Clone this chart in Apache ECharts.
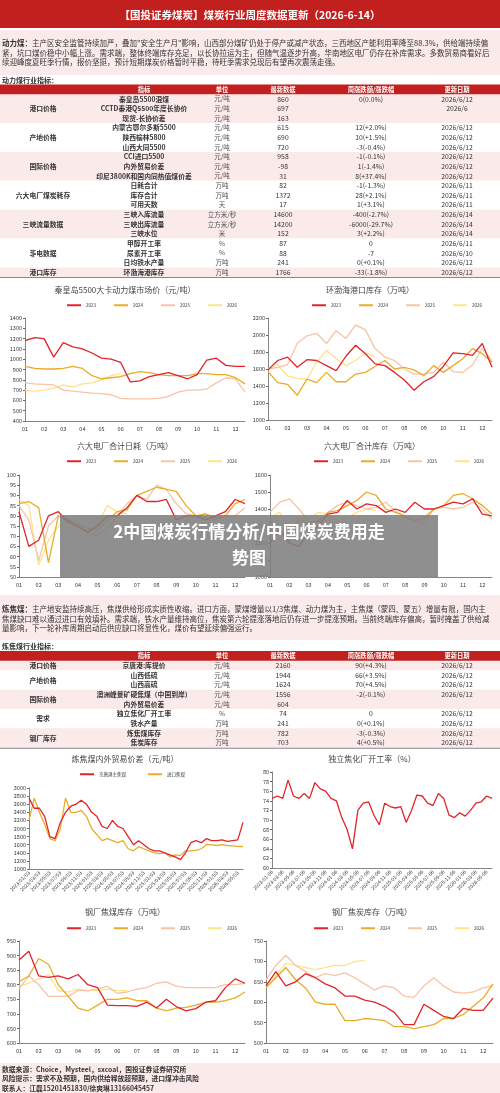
<!DOCTYPE html>
<html><head><meta charset="utf-8">
<script src="https://cdn.jsdelivr.net/npm/echarts@6/dist/echarts.min.js"></script>
<style>html,body{margin:0;padding:0;background:#fff}#c{width:500px;height:1093px}</style>
</head><body><div id="c"></div>
<script>
const FONT='"Noto Sans CJK SC","Noto Sans",sans-serif';
const C23='#e0242a',C24='#e8ac28',C25='#f7c4a6',C26='#fde38a';
const RED='#c1201e',PINK='#fbeaea';

const title1='【国投证券煤炭】煤炭行业周度数据更新（2026-6-14）';
const para1=['主产区安全监管持续加严，叠加"安全生产月"影响，山西部分煤矿仍处于停产或减产状态，三西地区产能利用率降至88.3%，供给端持续偏',
'紧，坑口煤价稳中小幅上涨。需求端，整体终端库存充足，以长协拉运为主，但随气温逐步升高，华南地区电厂仍存在补库需求。多数贸易商看好后',
'续迎峰度夏旺季行情，报价坚挺，预计短期煤炭价格暂时平稳，待旺季需求兑现后有望再次震荡走强。'];
const para2=['主产地安监持续高压，焦煤供给形成实质性收缩。进口方面，蒙煤增量以1/3焦煤、动力煤为主，主焦煤（蒙四、蒙五）增量有限，国内主',
'焦煤缺口难以通过进口有效填补。需求端，铁水产量维持高位，焦炭第六轮提涨落地后仍存进一步提涨预期。当前终端库存偏高，暂时掩盖了供给减',
'量影响，下一轮补库周期启动后供应缺口将显性化，煤价有望延续偏强运行。'];
const footer=['数据来源：Choice，Mysteel，sxcoal，国投证券证券研究所','风险提示：需求不及预期，国内供给释放超预期，进口煤冲击风险','联系人：江磊15201451830/徐爽琳13166045457'];
const tableHead=['指标','单位','最新数据','周涨跌额/涨跌幅','更新日期'];

const coalGroups=[['港口价格',3],['产地价格',3],['国际价格',3],['六大电厂煤炭耗存',3],['三峡流量数据',3],['非电数据',3],['港口库存',1]];
const coalRows=[
['秦皇岛5500混煤','元/吨','860','0(0.0%)','2026/6/12'],
['CCTD秦港Q5500年度长协价','元/吨','697','','2026/6'],
['现货-长协价差','元/吨','163','',''],
['内蒙古鄂尔多斯5500','元/吨','615','12(+2.0%)','2026/6/12'],
['陕西榆林5800','元/吨','690','10(+1.5%)','2026/6/12'],
['山西大同5500','元/吨','720','-3(-0.4%)','2026/6/12'],
['CCI进口5500','元/吨','958','-1(-0.1%)','2026/6/12'],
['内外贸易价差','元/吨','-98','1(-1.4%)','2026/6/12'],
['印尼3800K和国内同热值煤价差','元/吨','31','8(+37.4%)','2026/6/12'],
['日耗合计','万吨','82','-1(-1.3%)','2026/6/11'],
['库存合计','万吨','1372','28(+2.1%)','2026/6/11'],
['可用天数','天','17','1(+3.1%)','2026/6/11'],
['三峡入库流量','立方米/秒','14600','-400(-2.7%)','2026/6/14'],
['三峡出库流量','立方米/秒','14200','-6000(-29.7%)','2026/6/14'],
['三峡水位','米','152','3(+2.2%)','2026/6/14'],
['甲醇开工率','%','87','0','2026/6/11'],
['尿素开工率','%','88','-7','2026/6/10'],
['日均铁水产量','万吨','241','0(+0.1%)','2026/6/12'],
['环渤海港库存','万吨','1766','-33(-1.8%)','2026/6/12']];
const cokeGroups=[['港口价格',1],['产地价格',2],['国际价格',2],['需求',2],['钢厂库存',2]];
const cokeRows=[
['京唐港:库提价','元/吨','2160','90(+4.3%)','2026/6/12'],
['山西低硫','元/吨','1944','66(+3.5%)','2026/6/12'],
['山西高硫','元/吨','1624','70(+4.5%)','2026/6/12'],
['澳洲峰景矿硬焦煤（中国到岸）','元/吨','1556','-2(-0.1%)','2026/6/12'],
['内外贸易价差','元/吨','604','',''],
['独立焦化厂开工率','%','74','0','2026/6/12'],
['铁水产量','万吨','241','0(+0.1%)','2026/6/12'],
['炼焦煤库存','万吨','782','-3(-0.3%)','2026/6/12'],
['焦炭库存','万吨','703','4(+0.5%)','2026/6/12']];

const years=['2023','2024','2025','2026'];
const weekCats=[];for(let i=0;i<24;i++)weekCats.push(String(Math.floor(i/2)+1).padStart(2,'0'));
const monthCatsA=[],monthCatsB=[];
for(let y=2023;y<=2026;y++)for(let m=1;m<=12;m++){if(y===2026&&m>6)break;const mm=String(m).padStart(2,'0');monthCatsA.push(y+'/'+mm+'/03');monthCatsB.push(y+'-'+mm+'-06');}

const qhd23=[1180,1210,1200,1020,1160,1120,1100,1060,1010,1000,970,780,790,830,850,870,840,810,850,990,1010,940,930,930];
const qhd24=[930,910,905,905,910,930,910,840,810,820,830,860,880,870,850,840,840,840,860,860,850,850,820,760];
const qhd25=[770,760,755,750,700,690,680,670,665,655,620,615,615,615,620,640,680,700,700,710,770,820,810,680];
const qhd26=[700,690,700,720,750,730,760,770,800,840,860];
const bh23=[1590,1700,1740,1620,1710,1700,1640,1580,1750,1880,1780,1660,1640,1560,1470,1350,1450,1510,1630,1790,1780,1760,1900,1620];
const bh24=[1570,1440,1420,1290,1480,1440,1560,1450,1450,1540,1560,1630,1700,1600,1620,1590,1520,1640,1560,1640,1720,1840,1780,1680];
const bh25=[1600,1620,1650,1900,1990,2020,1900,2050,1960,2120,2060,1840,1740,1700,1600,1540,1540,1560,1680,1570,1560,1650,1840,1700];
const bh26=[1600,1650,1520,1490,1480,1680,1820,1720,1640,1700,1790,1750];
const rh23=[82,65,68,80,82,77,75,72,75,80,80,84,90,87,87,88,78,80,80,78,80,82,88,86];
const rh24=[86,87,84,57,80,78,76,74,73,78,82,83,90,92,94,93,92,85,80,81,79,80,86,88];
const rh25=[85,78,58,75,80,77,74,72,70,74,80,86,90,88,95,93,86,81,80,79,78,80,80,84];
const rh26=[88,85,56,68,75,78,74,73,76,85,82,81];
const kc23=[1200,1280,1200,1180,1260,1300,1370,1380,1450,1400,1430,1420,1380,1400,1380,1440,1400,1400,1420,1440,1430,1460,1370,1360];
const kc24=[1330,1260,1210,1340,1310,1330,1380,1390,1420,1450,1500,1480,1400,1380,1360,1330,1350,1400,1420,1480,1490,1460,1420,1370];
const kc25=[1380,1440,1460,1400,1330,1320,1380,1420,1440,1420,1400,1410,1440,1390,1350,1330,1320,1400,1410,1400,1410,1440,1400,1340];
const kc26=[1350,1380,1300,1360,1340,1380,1370,1330,1350,1380,1400,1390];
const jtg=[2750,2500,2500,2300,1800,1750,2150,2400,2550,2600,2700,2600,2400,2300,2050,2000,2200,2050,2000,1800,1600,1700,1600,1500,1450,1450,1400,1350,1300,1230,1400,1650,1700,1650,1750,1700,1700,1720,1680,1700,1720,2150];
const jkjm=[2200,2750,2400,2100,1750,1700,2000,2750,2400,2400,2450,2300,2000,1850,1700,1750,1700,1650,1700,1500,1450,1550,1500,1450,1400,1380,1400,1300,1350,1330,1450,1450,1460,1500,1600,1600,1580,1600,1580,1570,1560,1550];
const kgl=[74.5,75,74.5,78.3,75,74.5,75.5,74.5,77.8,76.5,76,74.5,74,70.5,68,64,72,73.5,73.8,71,69,73.5,72.8,72.5,72.8,69.5,72,75.2,75,73.5,73,75.5,74.5,71,70.5,71.5,70.8,72,73.5,73.8,75,74.5];
const jm23=[885,915,830,825,830,820,835,800,790,730,728,728,726,740,720,750,725,710,718,740,745,790,820,805];
const jm24=[810,830,890,870,800,760,720,710,730,750,750,755,745,745,720,710,720,722,730,740,740,745,755,775];
const jm25=[785,830,800,760,760,760,780,780,785,795,770,775,785,790,805,810,795,790,790,790,790,800,800,805];
const jm26=[795,805,820,835,780,775,785,780,780,785,780,780];
const jt23=[640,675,640,650,670,660,645,635,615,615,605,600,590,575,545,545,595,580,565,560,585,580,580,610];
const jt24=[635,660,685,655,635,600,595,595,555,555,560,558,555,540,540,535,540,545,560,560,570,590,610,645];
const jt25=[655,690,715,690,675,660,670,665,672,660,645,630,640,635,615,612,640,660,640,625,622,625,635,640];
const jt26=[635,665,695,690,685,680,685,690,690,700,702];

const charts=[
 {t:'秦皇岛5500大卡动力煤市场价（元/吨）',g:[25,318,220,103],y:[400,1400,100],d:[qhd23,qhd24,qhd25,qhd26],tx:125},
 {t:'环渤海港口库存（万吨）',g:[268,318,224,102],y:[1000,2200,200],d:[bh23,bh24,bh25,bh26],tx:370},
 {t:'六大电厂合计日耗（万吨）',g:[19,475,226,102],y:[50,100,5],d:[rh23,rh24,rh25,rh26],tx:125},
 {t:'六大电厂合计库存（万吨）',g:[270,475,222,102],y:[1000,1600,100],d:[kc23,kc24,kc25,kc26],tx:372},
 {t:'钢厂焦煤库存（万吨）',g:[19,941,226,102],y:[600,950,50],d:[jm23,jm24,jm25,jm26],tx:125},
 {t:'钢厂焦炭库存（万吨）',g:[266,941,227,102],y:[500,750,50],d:[jt23,jt24,jt25,jt26],tx:372}
];
const titleY=[290,290,446,446,912,912];

const chart=echarts.init(document.getElementById('c'),null,{renderer:'canvas'});
const G=[];
function txt(x,y,s,o){o=o||{};G.push({type:'text',z:o.z||10,style:{x:x,y:y,text:s,fill:o.fill||'#333',font:(o.bold?'bold ':'')+(o.size||6.5)+'px '+FONT,textAlign:o.align||'left',textVerticalAlign:'middle'}});}
function rect(x,y,w,h,f,z){G.push({type:'rect',z:z||1,shape:{x:x,y:y,width:w,height:h},style:{fill:f}});}
const PS=7.5;
function para(y0,label,lines){
 txt(2,y0,label,{size:PS,bold:true});
 lines.forEach((l,i)=>txt(i===0?2+PS*4:2,y0+i*9.7,l,{size:PS}));
}

rect(0,0,500,28,RED);
txt(250,15,title1,{fill:'#fff',bold:true,size:10.5,align:'center'});
rect(0,30,500,45,PINK);
para(43,'动力煤：',para1);
txt(2,80.5,'动力煤行业指标：',{size:7,bold:true});

const colX=[144,222,283,371,457];
function table(top,rowH,groups,rows){
 rect(0,top,500,rowH,RED,2);
 tableHead.forEach((h,i)=>txt(colX[i],top+rowH/2,h,{fill:'#fff',bold:true,size:6.3,align:'center'}));
 let r=0;
 groups.forEach((g,gi)=>{
  const y0=top+rowH+r*rowH;
  rect(0,y0,500,g[1]*rowH,gi%2===0?PINK:'#fff',1);
  txt(43,y0+g[1]*rowH/2,g[0],{bold:true,size:6.8,align:'center'});
  for(let k=0;k<g[1];k++){
   const row=rows[r+k],yc=y0+k*rowH+rowH/2;
   txt(colX[0],yc,row[0],{bold:true,size:6.8,align:'center'});
   txt(colX[1],yc,row[1],{size:6.5,align:'center',fill:'#555'});
   for(let c=2;c<5;c++)txt(colX[c],yc,row[c],{size:6.8,align:'center'});
  }
  r+=g[1];
 });
 rect(0,top+rowH*(rows.length+1),500,1,'#888',3);
}
table(84.5,9.63,coalGroups,coalRows);

rect(0,595,500,45,PINK);
para(609,'炼焦煤：',para2);
txt(2,646.5,'炼焦煤行业指标：',{size:7,bold:true});
table(651,9.67,cokeGroups,cokeRows);

rect(0,1063,500,30,PINK);
footer.forEach((l,i)=>txt(2,1069+i*9.7,l,{size:6.8,bold:true}));

charts.forEach((c,i)=>txt(c.tx,titleY[i],c.t,{size:8,align:'center',fill:'#444'}));
txt(125,759,'炼焦煤内外贸易价差（元/吨）',{size:8,align:'center',fill:'#444'});
txt(372,759,'独立焦化厂开工率（%）',{size:8,align:'center',fill:'#444'});

rect(60,515,378,62,'rgba(128,128,128,0.88)',50);
txt(249,532,'2中国煤炭行情分析/中国煤炭费用走',{fill:'#fff',bold:true,size:17,align:'center',z:51});
txt(249,558,'势图',{fill:'#fff',bold:true,size:17,align:'center',z:51});

const grid=[],xAxis=[],yAxis=[],series=[],legend=[];
const axLab={fontSize:5.5,color:'#333',fontFamily:FONT};
const axLine={show:true,lineStyle:{color:'#666',width:0.8}};
function addGrid(g,cats,yr,rot){
 const idx=grid.length;
 grid.push({left:g[0],top:g[1],width:g[2],height:g[3],containLabel:false});
 xAxis.push({type:'category',gridIndex:idx,data:cats,boundaryGap:false,axisLine:axLine,axisTick:{show:false},
  axisLabel:Object.assign({},axLab,{interval:1,rotate:rot||0,fontSize:rot?5:5.5,margin:rot?3:5}),splitLine:{show:false}});
 yAxis.push({type:'value',gridIndex:idx,min:yr[0],max:yr[1],interval:yr[2],axisLine:axLine,axisTick:{show:true,length:2,lineStyle:{color:'#666'}},
  axisLabel:Object.assign({},axLab,{margin:3,formatter:v=>String(v)}),splitLine:{show:false}});
 return idx;
}
const yc=[C23,C24,C25,C26];
const legY=[306,306,462,462,929,929];
charts.forEach((c,i)=>{
 const idx=addGrid(c.g,weekCats,c.y);
 c.d.forEach((arr,k)=>series.push({type:'line',name:years[k],xAxisIndex:idx,yAxisIndex:idx,data:arr,symbol:'none',
  lineStyle:{width:1.3,color:yc[k]},itemStyle:{color:yc[k]},z:10-k}));
 legend.push({data:years,top:legY[i]-3,left:c.tx-58,itemWidth:14,itemHeight:2,icon:'rect',itemGap:18,textStyle:{fontSize:4.5,color:'#333'},selectedMode:false,padding:0});
});
let i5=addGrid([29,788,214,81],monthCatsA,[1000,3000,200],45);
series.push({type:'line',name:'京唐港主焦煤',xAxisIndex:i5,yAxisIndex:i5,data:jtg,symbol:'none',lineStyle:{width:1.3,color:C23},itemStyle:{color:C23},z:10});
series.push({type:'line',name:'进口焦煤',xAxisIndex:i5,yAxisIndex:i5,data:jkjm,symbol:'none',lineStyle:{width:1.3,color:C24},itemStyle:{color:C24},z:9});
legend.push({data:['京唐港主焦煤','进口焦煤'],top:772,left:80,itemWidth:14,itemHeight:2,icon:'rect',itemGap:22,textStyle:{fontSize:4.5,color:'#333'},selectedMode:false,padding:0});
let i6=addGrid([272,772,220,96],monthCatsB,[60,80,2],45);
series.push({type:'line',name:'开工率',xAxisIndex:i6,yAxisIndex:i6,data:kgl,symbol:'none',lineStyle:{width:1.3,color:C23},itemStyle:{color:C23}});

chart.setOption({animation:false,backgroundColor:'#fff',textStyle:{fontFamily:FONT},grid,xAxis,yAxis,series,legend,graphic:{elements:G}});
</script></body></html>
